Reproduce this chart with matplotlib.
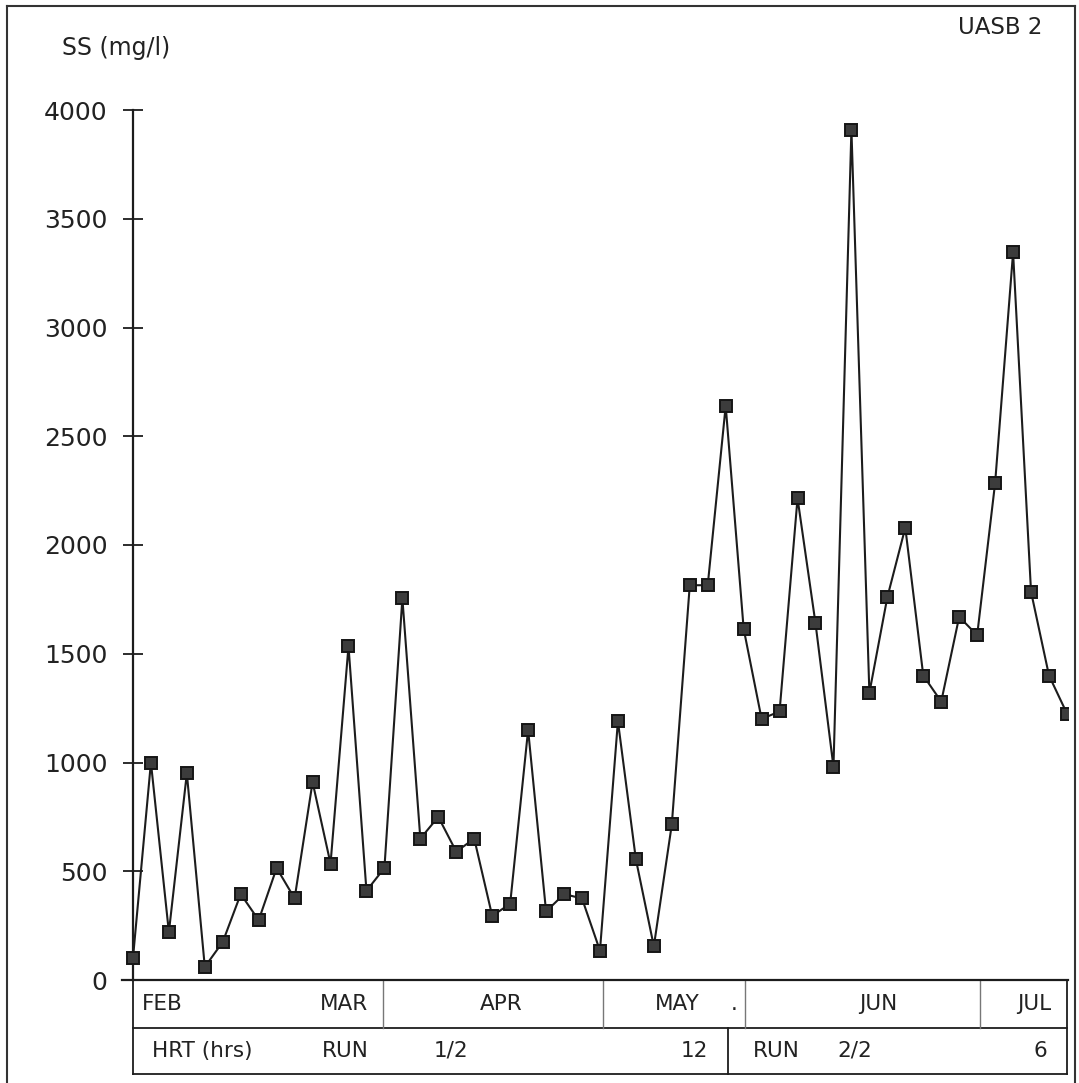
import numpy as np
import matplotlib
matplotlib.use("Agg")
import matplotlib.pyplot as plt
import matplotlib.transforms as mtransforms
from matplotlib.lines import Line2D

# suspended solids in the UASB 2 effluent, one value per sample
ss = [100, 1000, 220, 950, 60, 175, 395, 275, 515, 375, 910, 535, 1535, 410,
      515, 1755, 650, 750, 590, 650, 295, 350, 1150, 315, 395, 375, 135, 1190,
      555, 155, 715, 1815, 1815, 2640, 1615, 1200, 1235, 2215, 1640, 980, 3910,
      1320, 1760, 2080, 1400, 1280, 1670, 1585, 2285, 3345, 1785, 1400, 1225]
yticks = [0, 500, 1000, 1500, 2000, 2500, 3000, 3500, 4000]

# month strip under the axis (sample index of the boundaries)
month_edges = [13.9, 26.15, 34.1, 47.15]
month_labels = [("FEB", 0.5, "left"), ("MAR", 13.1, "right"), ("APR", 20.5, "center"),
                ("MAY", 31.55, "right"), (".", 33.45, "center"), ("JUN", 41.5, "center"),
                ("JUL", 50.2, "center")]
# HRT strip: run 1 at 12 h, run 2 at 6 h
run_edges = [33.13]
run_labels = [("HRT (hrs)", 1.05, "left"), ("RUN", 13.1, "right"), ("1/2", 16.75, "left"),
              ("12", 32.0, "right"), ("RUN", 34.5, "left"), ("2/2", 39.2, "left"),
              ("6", 50.5, "center")]

W, H = 1079, 1083
fig = plt.figure(figsize=(W / 100, H / 100), dpi=100)
fig.patch.set_facecolor("white")

def px(x0, y0, x1, y1):
    return [x0 / W, 1 - y1 / H, (x1 - x0) / W, (y1 - y0) / H]

ax = fig.add_axes(px(122, 110, 1067.5, 980))
x = np.arange(len(ss))
ax.plot(x, ss, color="#1c1c1c", lw=1.5, marker="s", ms=8.5,
        mfc="#3c3c3c", mec="#151515", mew=1.4, zorder=3)

ax.set_xlim(-0.61, 52.03)
ax.set_ylim(0, 4000)
ax.spines["left"].set_position(("data", 0))
ax.spines["top"].set_visible(False)
ax.spines["right"].set_visible(False)
for s in ("left", "bottom"):
    ax.spines[s].set_linewidth(1.6)
    ax.spines[s].set_color("#1c1c1c")
ax.set_xticks([])
ax.set_yticks(yticks)
ax.tick_params(axis="y", direction="inout", length=15, width=1.3,
               color="#1c1c1c", labelsize=18, pad=11, labelcolor="#222222")

# two-row strip below the plot
trans = mtransforms.blended_transform_factory(ax.transData, ax.transAxes)
r1, r2 = -0.0552, -0.108
lk = dict(color="#1c1c1c", lw=1.3, transform=trans, clip_on=False)
ax.plot([0, 0], [0, r2], **lk)
ax.plot([52, 52], [0, r2], **lk)
ax.plot([0, 52], [r1, r1], **lk)
ax.plot([0, 52], [r2, r2], **lk)
for e in month_edges:
    ax.plot([e, e], [0, r1], color="#777777", lw=1.0, transform=trans, clip_on=False)
for e in run_edges:
    ax.plot([e, e], [r1, r2], **lk)
for lab, xp, ha in month_labels:
    ax.text(xp, r1 / 2, lab, transform=trans, ha=ha, va="center", fontsize=15.5, color="#222222")
for lab, xp, ha in run_labels:
    ax.text(xp, (r1 + r2) / 2, lab, transform=trans, ha=ha, va="center", fontsize=15.5, color="#222222")

fig.text(62 / W, 1 - 48 / H, "SS (mg/l)", ha="left", va="center", fontsize=17, color="#222222")
fig.text(1042 / W, 1 - 28 / H, "UASB 2", ha="right", va="center", fontsize=16.5, color="#222222")

# page frame
fk = dict(color="#333333", lw=1.5, transform=fig.transFigure)
fig.add_artist(Line2D([7 / W, 7 / W], [1 - 6 / H, 0], **fk))
fig.add_artist(Line2D([7 / W, 1075 / W], [1 - 6 / H, 1 - 6 / H], **fk))
fig.add_artist(Line2D([1075 / W, 1075 / W], [1 - 6 / H, 0], **fk))

fig.savefig("out.png", dpi=100)
